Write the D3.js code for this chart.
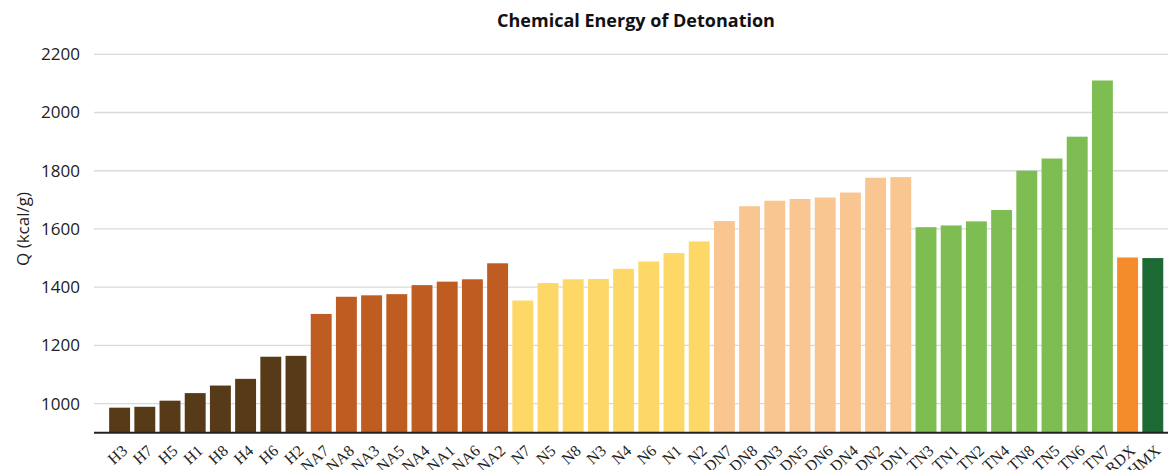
<!DOCTYPE html>
<html>
<head>
<meta charset="utf-8">
<script src="https://d3js.org/d3.v7.min.js"></script>
<style>
  body { margin: 0; background: #ffffff; }
</style>
</head>
<body>
<div id="chart1"></div>
<script>
// data
var categories = ["H3","H7","H5","H1","H8","H4","H6","H2",
  "NA7","NA8","NA3","NA5","NA4","NA1","NA6","NA2",
  "N7","N5","N8","N3","N4","N6","N1","N2",
  "DN7","DN8","DN3","DN5","DN6","DN4","DN2","DN1",
  "TN3","TN1","TN2","TN4","TN8","TN5","TN6","TN7",
  "RDX","HMX"];

var energyQ = [986, 989, 1010, 1036, 1062, 1085, 1161, 1164,
  1308, 1367, 1372, 1376, 1407, 1419, 1427, 1482,
  1354, 1414, 1427, 1428, 1463, 1488, 1517, 1557,
  1627, 1678, 1697, 1703, 1708, 1725, 1776, 1778,
  1606, 1612, 1626, 1665, 1800, 1842, 1917, 2110,
  1502, 1500];

var groups = ["H","H","H","H","H","H","H","H",
  "NA","NA","NA","NA","NA","NA","NA","NA",
  "N","N","N","N","N","N","N","N",
  "DN","DN","DN","DN","DN","DN","DN","DN",
  "TN","TN","TN","TN","TN","TN","TN","TN",
  "RDX","HMX"];

var groupNames = ["H","NA","N","DN","TN","RDX","HMX"];
var groupColours = ["#573a18","#bf5c22","#fdd866","#f9c591","#7dbd52","#f48c2c","#1e6a35"];

var yTicks = [1000, 1200, 1400, 1600, 1800, 2000, 2200];

//GLOBALS
W = 1168;
H = 470;
plotLeft = 94;
axisY = 432.7;
topY = 54.3;

function start() {
  svg = d3.select("#chart1")
      .append("svg")
      .attr("width", W)
      .attr("height", H);

  x = d3.scaleBand()
      .domain(categories)
      .range([107, 1165.4])
      .paddingInner(0.17)
      .paddingOuter(0.085);

  // axis line sits at 900, top gridline at 2200
  y = d3.scaleLinear()
      .domain([900, 2200])
      .range([axisY, topY]);

  colour = d3.scaleOrdinal().domain(groupNames).range(groupColours);

  // gridlines
  svg.append("g")
      .selectAll("line")
      .data(yTicks)
      .join("line")
      .attr("x1", plotLeft)
      .attr("x2", W)
      .attr("y1", d => y(d))
      .attr("y2", d => y(d))
      .attr("stroke", "#d9d9d9")
      .attr("stroke-width", 1.3);

  // y labels
  yAxis = svg.append("g")
      .attr("transform", "translate(" + plotLeft + ",0)")
      .call(d3.axisLeft(y).tickValues(yTicks).tickFormat(d3.format("d")).tickSize(0).tickPadding(14));
  yAxis.select(".domain").remove();
  yAxis.selectAll("text")
      .style("font-family", "'Open Sans', sans-serif")
      .style("font-size", "17px")
      .attr("fill", "#222");

  // bars
  svg.append("g")
      .selectAll("rect")
      .data(categories)
      .join("rect")
      .attr("x", d => x(d))
      .attr("width", x.bandwidth())
      .attr("y", (d, i) => y(energyQ[i]))
      .attr("height", (d, i) => y(900) - y(energyQ[i]))
      .attr("fill", (d, i) => colour(groups[i]));

  // x axis
  xAxis = svg.append("g")
      .attr("transform", "translate(0," + axisY + ")")
      .call(d3.axisBottom(x).tickSize(0).tickSizeOuter(0));
  xAxis.select(".domain")
      .attr("d", "M" + plotLeft + ",0H" + W)
      .attr("stroke", "#222")
      .attr("stroke-width", 2);
  xAxis.selectAll("text")
      .style("font-family", "'Liberation Serif', 'DejaVu Serif', serif")
      .style("font-size", "16px")
      .attr("fill", "#222")
      .attr("text-anchor", "end")
      .attr("dy", "0.35em")
      .attr("transform", "translate(3,13) rotate(-42)");

  // y title
  svg.append("text")
      .attr("transform", "translate(29,229) rotate(-90)")
      .attr("text-anchor", "middle")
      .style("font-family", "'Open Sans', sans-serif")
      .style("font-size", "17px")
      .attr("fill", "#222")
      .text("Q (kcal/g)");

  // title
  svg.append("text")
      .attr("x", 636)
      .attr("y", 27)
      .attr("text-anchor", "middle")
      .style("font-family", "'Open Sans', sans-serif")
      .style("font-weight", "bold")
      .style("font-size", "18px")
      .attr("fill", "#111")
      .text("Chemical Energy of Detonation");
}

function init() {
  start();
}

window.onload = init;
</script>
</body>
</html>
